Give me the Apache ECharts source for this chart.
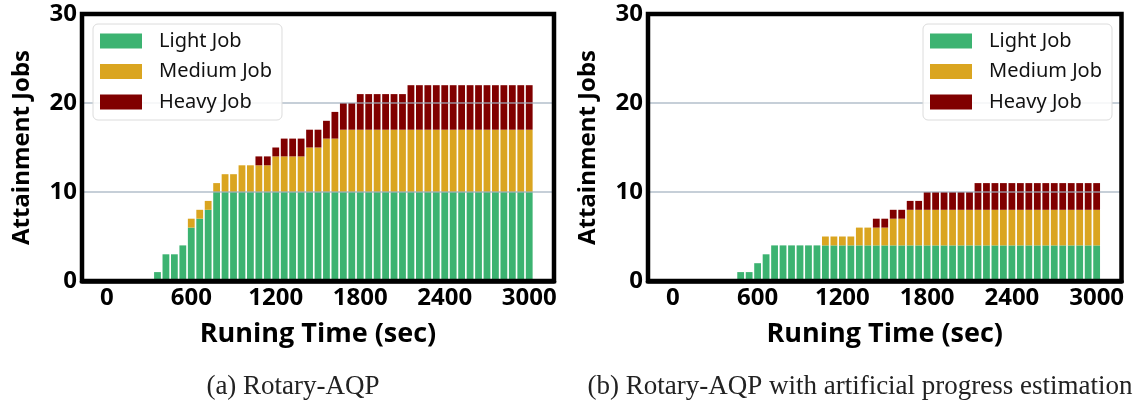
<!DOCTYPE html>
<html lang="en">
<head>
  <meta charset="UTF-8">
  <title>Rotary-AQP attainment</title>
  <style>
    body { margin: 0; background: #fff; }
    #chart { width: 1136px; height: 406px; }
  </style>
  <script src="https://cdn.jsdelivr.net/npm/echarts@6/dist/echarts.min.js"></script>
</head>
<body>
<div id="chart"></div>
<script>
  // running time of each bar (sec)
  var timesSec = [
    0, 60, 120, 180, 240, 300, 360, 420, 480, 540,
    600, 660, 720, 780, 840, 900, 960, 1020, 1080, 1140,
    1200, 1260, 1320, 1380, 1440, 1500, 1560, 1620, 1680, 1740,
    1800, 1860, 1920, 1980, 2040, 2100, 2160, 2220, 2280, 2340,
    2400, 2460, 2520, 2580, 2640, 2700, 2760, 2820, 2880, 2940,
    3000
  ];
  var xTicks = [0, 600, 1200, 1800, 2400, 3000];
  var seriesNames = ['Light Job', 'Medium Job', 'Heavy Job'];
  var colors = ['#3cb371', '#daa520', '#800000'];

  // (a) Rotary-AQP
  var lightA = [
    0, 0, 0, 0, 0, 0, 1, 3, 3, 4,
    6, 7, 8, 10, 10, 10, 10, 10, 10, 10,
    10, 10, 10, 10, 10, 10, 10, 10, 10, 10,
    10, 10, 10, 10, 10, 10, 10, 10, 10, 10,
    10, 10, 10, 10, 10, 10, 10, 10, 10, 10,
    10
  ];
  var mediumA = [
    0, 0, 0, 0, 0, 0, 0, 0, 0, 0,
    1, 1, 1, 1, 2, 2, 3, 3, 3, 3,
    4, 4, 4, 4, 5, 5, 6, 6, 7, 7,
    7, 7, 7, 7, 7, 7, 7, 7, 7, 7,
    7, 7, 7, 7, 7, 7, 7, 7, 7, 7,
    7
  ];
  var heavyA = [
    0, 0, 0, 0, 0, 0, 0, 0, 0, 0,
    0, 0, 0, 0, 0, 0, 0, 0, 1, 1,
    1, 2, 2, 2, 2, 2, 2, 3, 3, 3,
    4, 4, 4, 4, 4, 4, 5, 5, 5, 5,
    5, 5, 5, 5, 5, 5, 5, 5, 5, 5,
    5
  ];

  // (b) Rotary-AQP with artificial progress estimation
  var lightB = [
    0, 0, 0, 0, 0, 0, 0, 0, 1, 1,
    2, 3, 4, 4, 4, 4, 4, 4, 4, 4,
    4, 4, 4, 4, 4, 4, 4, 4, 4, 4,
    4, 4, 4, 4, 4, 4, 4, 4, 4, 4,
    4, 4, 4, 4, 4, 4, 4, 4, 4, 4,
    4
  ];
  var mediumB = [
    0, 0, 0, 0, 0, 0, 0, 0, 0, 0,
    0, 0, 0, 0, 0, 0, 0, 0, 1, 1,
    1, 1, 2, 2, 2, 2, 3, 3, 4, 4,
    4, 4, 4, 4, 4, 4, 4, 4, 4, 4,
    4, 4, 4, 4, 4, 4, 4, 4, 4, 4,
    4
  ];
  var heavyB = [
    0, 0, 0, 0, 0, 0, 0, 0, 0, 0,
    0, 0, 0, 0, 0, 0, 0, 0, 0, 0,
    0, 0, 0, 0, 1, 1, 1, 1, 1, 1,
    2, 2, 2, 2, 2, 2, 3, 3, 3, 3,
    3, 3, 3, 3, 3, 3, 3, 3, 3, 3,
    3
  ];

  var boldFont = "'Open Sans', 'DejaVu Sans', sans-serif";

  // value first so the stack goes on the count, time mapped to x via encode
  function pairs(vals) {
    return timesSec.map(function (t, i) { return [vals[i], t]; });
  }

  function makeX(idx) {
    return {
      gridIndex: idx,
      type: 'value',
      min: -176,
      max: 3176,
      z: 6,
      name: 'Runing Time (sec)',
      nameLocation: 'middle',
      nameGap: 40,
      nameTextStyle: { fontFamily: boldFont, fontWeight: 'bold', fontSize: 27, color: '#000' },
      axisLine: { show: true, onZero: false, lineStyle: { color: '#000', width: 4.5 } },
      axisTick: { show: false },
      splitLine: { show: false },
      axisLabel: {
        customValues: xTicks,
        formatter: function (v) { return String(v); },
        margin: 5,
        fontFamily: boldFont,
        fontWeight: 'bold',
        fontSize: 24,
        color: '#000'
      }
    };
  }

  function makeY(idx) {
    return {
      gridIndex: idx,
      type: 'value',
      min: 0,
      max: 30,
      interval: 10,
      z: 5,
      name: 'Attainment Jobs',
      nameLocation: 'middle',
      nameGap: 48,
      nameTextStyle: { fontFamily: boldFont, fontWeight: 'bold', fontSize: 24, color: '#000' },
      axisLine: { show: false },
      axisTick: { show: false },
      splitLine: {
        show: true,
        showMinLine: false,
        showMaxLine: false,
        lineStyle: { color: 'rgba(160,176,190,0.8)', width: 1.5 }
      },
      axisLabel: {
        margin: 5,
        fontFamily: boldFont,
        fontWeight: 'bold',
        fontSize: 24,
        color: '#000'
      }
    };
  }

  function makeLegend(pos) {
    var l = {
      orient: 'vertical',
      top: 24,
      z: 8,
      data: seriesNames,
      icon: 'rect',
      itemWidth: 42,
      itemHeight: 15,
      itemGap: 10.5,
      padding: [7, 10, 8, 7],
      backgroundColor: 'rgba(255,255,255,0.85)',
      borderColor: '#dcdcdc',
      borderWidth: 1,
      borderRadius: 5,
      selectedMode: false,
      textStyle: {
        fontFamily: "'Noto Sans', 'Open Sans', sans-serif",
        fontSize: 20,
        lineHeight: 20,
        color: '#111',
        padding: [0, 0, 0, 12]
      }
    };
    for (var k in pos) l[k] = pos[k];
    return l;
  }

  var groups = [[lightA, mediumA, heavyA], [lightB, mediumB, heavyB]];
  var series = [];
  groups.forEach(function (g, gi) {
    g.forEach(function (vals, si) {
      series.push({
        name: seriesNames[si],
        type: 'bar',
        xAxisIndex: gi,
        yAxisIndex: gi,
        stack: 'jobs' + gi,
        barWidth: 6.8,
        encode: { x: 1, y: 0 },
        itemStyle: { color: colors[si] },
        data: pairs(vals)
      });
    });
  });

  var captionStyle = { fontFamily: "'Liberation Serif', serif", fontWeight: 'normal', fontSize: 27, color: '#222' };

  var myChart = echarts.init(document.getElementById('chart'));
  var option = {
    animation: false,
    backgroundColor: '#fff',
    title: [
      { text: '(a) Rotary-AQP', left: 288, top: 368, textAlign: 'center', textStyle: captionStyle },
      { text: '(b) Rotary-AQP with artificial progress estimation', left: 855, top: 368, textAlign: 'center', textStyle: captionStyle }
    ],
    legend: [
      makeLegend({ left: 93 }),
      makeLegend({ right: 24 })
    ],
    grid: [
      { left: 82, right: 1136 - 554, top: 14, bottom: 406 - 281, show: true, z: 10,
        backgroundColor: 'transparent', borderColor: '#000', borderWidth: 4.5 },
      { left: 648, right: 1136 - 1121.5, top: 14, bottom: 406 - 281, show: true, z: 10,
        backgroundColor: 'transparent', borderColor: '#000', borderWidth: 4.5 }
    ],
    xAxis: [makeX(0), makeX(1)],
    yAxis: [makeY(0), makeY(1)],
    series: series
  };
  myChart.setOption(option);
</script>
</body>
</html>
